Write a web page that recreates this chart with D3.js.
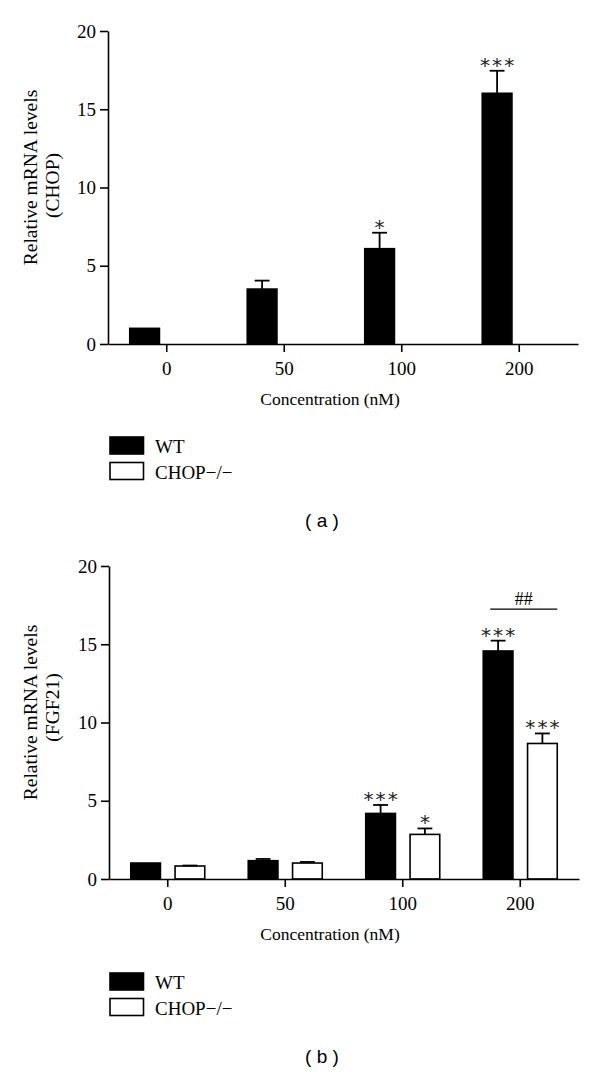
<!DOCTYPE html>
<html>
<head>
<meta charset="utf-8">
<script src="https://cdn.jsdelivr.net/npm/d3@7"></script>
<style>
  html, body { margin: 0; padding: 0; background: #fff; }
  svg { display: block; }
  text { fill: #000; }
</style>
</head>
<body>
<svg id="chart" width="600" height="1072"></svg>
<script>
// ---------- data ----------
const categories = ["0", "50", "100", "200"];
const seriesNames = ["WT", "CHOP\u2212/\u2212"];
const yTicks = [0, 5, 10, 15, 20];

// Panel (a): CHOP mRNA
const chopWT = [1.0, 3.51, 6.09, 16.02];
const chopWTErr = [0, 0.54, 1.02, 1.44];
const chopWTSig = ["", "", "*", "***"];
const chopKO = [null, null, null, null];
const chopKOErr = [0, 0, 0, 0];
const chopKOSig = ["", "", "", ""];

// Panel (b): FGF21 mRNA
const fgfWT = [1.02, 1.17, 4.19, 14.57];
const fgfWTErr = [0, 0.11, 0.54, 0.66];
const fgfWTSig = ["", "", "***", "***"];
const fgfKO = [0.83, 1.02, 2.85, 8.66];
const fgfKOErr = [0.03, 0.07, 0.38, 0.64];
const fgfKOSig = ["", "", "*", "***"];
const fgfBracket = { category: "200", label: "##", level: 17.25 };

// ---------- drawing ----------
const svg = d3.select("#chart");
const SERIF = "'Liberation Serif', 'Times New Roman', serif";
const SANS = "'Liberation Sans', Arial, sans-serif";

function drawPanel(opts) {
  const g = svg.append("g");
  const x = d3.scaleBand().domain(categories).range([opts.left, opts.right]).padding(0);
  const xs = d3.scaleBand().domain(seriesNames).range([-37, 37]).paddingInner(0.33).paddingOuter(0);
  const y = d3.scaleLinear().domain([0, 20]).range([opts.bottom, opts.top]);
  const cx = c => x(c) + x.bandwidth() / 2;

  const series = [
    { name: seriesNames[0], vals: opts.wt, err: opts.wtErr, sig: opts.wtSig, fill: "#000" },
    { name: seriesNames[1], vals: opts.ko, err: opts.koErr, sig: opts.koSig, fill: "#fff" }
  ];

  series.forEach(s => {
    categories.forEach((c, i) => {
      const v = s.vals[i];
      if (v === null || v === undefined) return;
      const bx = cx(c) + xs(s.name);
      const bw = xs.bandwidth();
      g.append("rect")
        .attr("x", bx).attr("y", y(v))
        .attr("width", bw).attr("height", y(0) - y(v))
        .attr("fill", s.fill).attr("stroke", "#000").attr("stroke-width", 1.6);
      const e = s.err[i];
      const mid = bx + bw / 2;
      if (e > 0) {
        g.append("line").attr("x1", mid).attr("x2", mid)
          .attr("y1", y(v)).attr("y2", y(v + e))
          .attr("stroke", "#000").attr("stroke-width", 1.8);
        g.append("line").attr("x1", mid - bw / 4).attr("x2", mid + bw / 4)
          .attr("y1", y(v + e)).attr("y2", y(v + e))
          .attr("stroke", "#000").attr("stroke-width", 1.8);
      }
      const sig = s.sig[i];
      if (sig) {
        const n = sig.length;
        for (let k = 0; k < n; k++) {
          g.append("text")
            .attr("x", mid + (k - (n - 1) / 2) * 12.2)
            .attr("y", y(v + e) + 1)
            .attr("text-anchor", "middle")
            .style("font-family", "'DejaVu Sans', sans-serif")
            .style("font-size", "20px")
            .style("fill", "#222")
            .text("*");
        }
      }
    });
  });

  if (opts.bracket) {
    const b = opts.bracket;
    const x1 = cx(b.category) + xs(seriesNames[0]) + 7;
    const x2 = cx(b.category) + xs(seriesNames[1]) + xs.bandwidth();
    g.append("line").attr("x1", x1).attr("x2", x2)
      .attr("y1", y(b.level)).attr("y2", y(b.level))
      .attr("stroke", "#000").attr("stroke-width", 1.3);
    g.append("text").attr("x", (x1 + x2) / 2).attr("y", y(b.level) - 4)
      .attr("text-anchor", "middle")
      .style("font-family", SERIF).style("font-size", "18px")
      .text(b.label);
  }

  // axes
  const xAxis = g.append("g").attr("transform", `translate(0,${opts.bottom})`)
    .call(d3.axisBottom(x).tickSize(8).tickSizeOuter(0).tickPadding(10));
  const yAxis = g.append("g").attr("transform", `translate(${opts.left},0)`)
    .call(d3.axisLeft(y).tickValues(yTicks).tickSize(8).tickSizeOuter(0).tickPadding(4));
  [xAxis, yAxis].forEach(a => {
    a.selectAll("path, line").attr("stroke", "#000").attr("stroke-width", 1.6);
    a.selectAll("text").style("font-family", SERIF).style("font-size", "19px").attr("fill", "#000");
  });

  // axis titles
  g.append("text").attr("x", 330).attr("y", opts.bottom + 61)
    .attr("text-anchor", "middle")
    .style("font-family", SERIF).style("font-size", "17.5px")
    .text("Concentration (nM)");
  const ymid = (opts.top + opts.bottom) / 2;
  g.append("text").attr("transform", `translate(37,${ymid + opts.l1dy}) rotate(-90)`)
    .attr("text-anchor", "middle")
    .style("font-family", SERIF).style("font-size", "19.5px")
    .text("Relative mRNA levels");
  g.append("text").attr("transform", `translate(59,${ymid + opts.l2dy}) rotate(-90)`)
    .attr("text-anchor", "middle")
    .style("font-family", SERIF).style("font-size", "19.5px")
    .text(opts.gene);

  // legend
  const ly = opts.bottom + opts.legendDy;
  series.forEach((s, i) => {
    g.append("rect").attr("x", 110).attr("y", ly + i * 25.5)
      .attr("width", 33.5).attr("height", 17)
      .attr("fill", s.fill).attr("stroke", "#000").attr("stroke-width", 1.6);
    g.append("text").attr("x", 155).attr("y", ly + i * 25.5 + 16)
      .style("font-family", SERIF).style("font-size", "19px")
      .text(s.name);
  });

  // caption
  g.append("text").attr("x", 322).attr("y", opts.captionY)
    .attr("text-anchor", "middle")
    .style("font-family", SANS).style("font-size", "19px")
    .attr("xml:space", "preserve")
    .text(opts.caption);
}

drawPanel({
  left: 108, right: 578, top: 31, bottom: 344,
  wt: chopWT, wtErr: chopWTErr, wtSig: chopWTSig,
  ko: chopKO, koErr: chopKOErr, koSig: chopKOSig,
  gene: "(CHOP)", l1dy: -10, l2dy: -2,
  legendDy: 93, caption: "( a )", captionY: 527
});

drawPanel({
  left: 109, right: 579, top: 566, bottom: 879,
  wt: fgfWT, wtErr: fgfWTErr, wtSig: fgfWTSig,
  ko: fgfKO, koErr: fgfKOErr, koSig: fgfKOSig,
  bracket: fgfBracket,
  gene: "(FGF21)", l1dy: -10, l2dy: -15,
  legendDy: 94, caption: "( b )", captionY: 1063
});
</script>
</body>
</html>
